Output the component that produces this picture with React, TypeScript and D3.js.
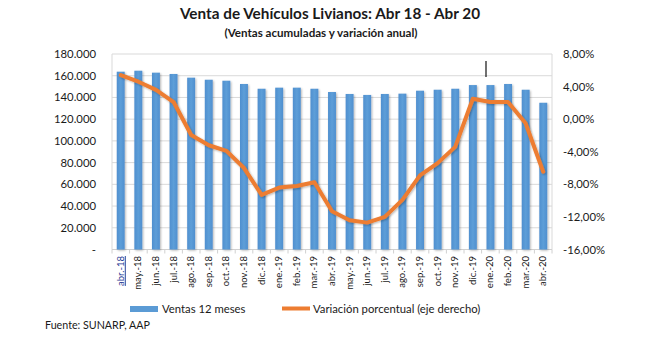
import React from "react";
import * as d3 from "d3";

const months = [
  "abr.-18", "may.-18", "jun.-18", "jul.-18", "ago.-18", "sep.-18", "oct.-18", "nov.-18", "dic.-18",
  "ene.-19", "feb.-19", "mar.-19", "abr.-19", "may.-19", "jun.-19", "jul.-19", "ago.-19", "sep.-19",
  "oct.-19", "nov.-19", "dic.-19", "ene.-20", "feb.-20", "mar.-20", "abr.-20",
];
const ventas = [
  163700, 164600, 162800, 161600, 158200, 156300, 155400, 152400, 148000,
  149000, 149000, 148000, 145000, 143200, 142300, 143200, 143500, 146200,
  147100, 148000, 151400, 151400, 152400, 147100, 135100,
];
const variacion = [
  5.4, 4.6, 3.6, 2.1, -1.95, -3.2, -3.9, -6.0, -9.3,
  -8.4, -8.2, -7.75, -11.3, -12.4, -12.7, -12.0, -9.9, -6.9,
  -5.4, -3.4, 2.5, 2.1, 2.1, -0.5, -6.45,
];
const leftTicks = [0, 20000, 40000, 60000, 80000, 100000, 120000, 140000, 160000, 180000];
const rightTicks = [-16, -12, -8, -4, 0, 4, 8];

const FONT = "Lato, 'Open Sans', sans-serif";

export default function App() {
  const x0 = 112, x1 = 552, yTop = 54, yBot = 249.5;
  const x = d3.scaleBand<string>().domain(months).range([x0, x1]).paddingInner(0.55).paddingOuter(0.27);
  const xb = d3.scaleBand<string>().domain(months).range([x0, x1]);
  const yL = d3.scaleLinear().domain([0, 180000]).range([yBot, yTop]);
  const yR = d3.scaleLinear().domain([-16, 8]).range([yBot, yTop]);
  const fmtL = (v: number) => (v === 0 ? "-" : d3.format(",")(v).replace(/,/g, "."));
  const fmtR = (v: number) => v.toFixed(2).replace(".", ",") + "%";
  const line = d3
    .line<number>()
    .x((_, i) => (xb(months[i]) as number) + xb.bandwidth() / 2)
    .y((d) => yR(d));

  return (
    <svg
      width={654}
      height={341}
      style={{ position: "absolute", left: 0, top: 0, background: "#fff" }}
      fontFamily={FONT}
    >
      <defs>
        <linearGradient id="barg" x1="0" x2="1" y1="0" y2="0">
          <stop offset="0" stopColor="#4f8fcf" />
          <stop offset="0.5" stopColor="#5d9ed8" />
          <stop offset="1" stopColor="#4f8fcf" />
        </linearGradient>
        <filter id="sh" x="-20%" y="-20%" width="140%" height="140%">
          <feGaussianBlur in="SourceAlpha" stdDeviation="1.2" />
          <feOffset dx="1" dy="1" result="b" />
          <feComponentTransfer><feFuncA type="linear" slope="0.3" /></feComponentTransfer>
          <feMerge><feMergeNode /><feMergeNode in="SourceGraphic" /></feMerge>
        </filter>
      </defs>
      <text x={330} y={19} textAnchor="middle" fontSize={15.3} fontWeight="bold" fill="#1a1a1a">
        Venta de Vehículos Livianos: Abr 18 - Abr 20
      </text>
      <text x={321} y={37} textAnchor="middle" fontSize={11.6} fontWeight="bold" fill="#1a1a1a">
        (Ventas acumuladas y variación anual)
      </text>
      {leftTicks.slice(1).map((t) => (
        <line key={t} x1={x0} x2={x1} y1={yL(t)} y2={yL(t)} stroke="#d9d9d9" strokeWidth={1} />
      ))}
      <line x1={x0} x2={x0} y1={yTop} y2={yBot} stroke="#d9d9d9" />
      <line x1={x1} x2={x1} y1={yTop} y2={yBot} stroke="#d9d9d9" />
      <line x1={x0} x2={x1} y1={yBot} y2={yBot} stroke="#d0d0d0" />
      {months.map((m) => (
        <line key={m} x1={xb(m)} x2={xb(m)} y1={yBot} y2={yBot + 4} stroke="#d0d0d0" />
      ))}
      <line x1={x1} x2={x1} y1={yBot} y2={yBot + 4} stroke="#d0d0d0" />
      <g filter="url(#sh)">
        {months.map((m, i) => (
          <rect
            key={m}
            x={x(m)}
            y={yL(ventas[i])}
            width={x.bandwidth()}
            height={yBot - yL(ventas[i])}
            fill="url(#barg)"
          />
        ))}
      </g>
      <path
        d={line(variacion) || ""}
        fill="none"
        stroke="#ed7d31"
        strokeWidth={4}
        strokeLinejoin="round"
        strokeLinecap="round"
        filter="url(#sh)"
      />
      <line x1={486} x2={486} y1={61} y2={77} stroke="#111" strokeWidth={1.2} />
      {leftTicks.map((t) => (
        <text key={t} x={96} y={yL(t) + 4} textAnchor="end" fontSize={11.3} fill="#1a1a1a">
          {fmtL(t)}
        </text>
      ))}
      {rightTicks.map((t) => (
        <text key={t} x={563} y={yR(t) + 4} textAnchor="start" fontSize={11.3} fill="#1a1a1a">
          {fmtR(t)}
        </text>
      ))}
      {months.map((m, i) => {
        const cx = (xb(m) as number) + xb.bandwidth() / 2 + 3;
        return (
          <text
            key={m}
            transform={`translate(${cx},256) rotate(-90)`}
            textAnchor="end"
            fontSize={9.5}
            fill={i === 0 ? "#1f3a93" : "#1a1a1a"}
            textDecoration={i === 0 ? "underline" : undefined}
          >
            {m}
          </text>
        );
      })}
      <rect x={130} y={306} width={28} height={6} fill="#5b9bd5" />
      <text x={162} y={313} fontSize={11.3} fill="#1a1a1a">Ventas 12 meses</text>
      <rect x={282} y={306.5} width={28} height={4} fill="#ed7d31" />
      <text x={313} y={313} fontSize={11.3} fill="#1a1a1a">Variación porcentual (eje derecho)</text>
      <text x={45} y={329} fontSize={10.7} fill="#1a1a1a">Fuente: SUNARP, AAP</text>
    </svg>
  );
}
